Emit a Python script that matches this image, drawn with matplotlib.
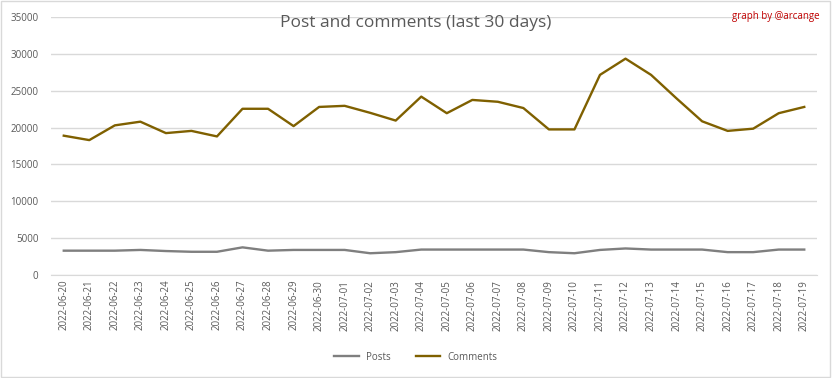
import matplotlib.pyplot as plt
from matplotlib.patches import Rectangle

days = ["2022-06-20", "2022-06-21", "2022-06-22", "2022-06-23", "2022-06-24",
        "2022-06-25", "2022-06-26", "2022-06-27", "2022-06-28", "2022-06-29",
        "2022-06-30", "2022-07-01", "2022-07-02", "2022-07-03", "2022-07-04",
        "2022-07-05", "2022-07-06", "2022-07-07", "2022-07-08", "2022-07-09",
        "2022-07-10", "2022-07-11", "2022-07-12", "2022-07-13", "2022-07-14",
        "2022-07-15", "2022-07-16", "2022-07-17", "2022-07-18", "2022-07-19"]
posts = [3300, 3300, 3300, 3400, 3250, 3150, 3150, 3750, 3300, 3400,
         3400, 3400, 2950, 3100, 3450, 3450, 3450, 3450, 3450, 3100,
         2950, 3400, 3600, 3450, 3450, 3450, 3100, 3100, 3450, 3450]
comments = [18900, 18300, 20300, 20800, 19250, 19550, 18800, 22550, 22550, 20200,
            22800, 22950, 22000, 20950, 24200, 21950, 23750, 23500, 22650, 19750,
            19750, 27150, 29350, 27150, 23950, 20850, 19550, 19850, 21950, 22800]
y_ticks = [0, 5000, 10000, 15000, 20000, 25000, 30000, 35000]

plt.rcParams['font.family'] = ['Open Sans', 'DejaVu Sans']

fig = plt.figure(figsize=(8.32, 3.78), dpi=100)
ax = fig.add_axes([0.0613, 0.2725, 0.9207, 0.6825])

x = list(range(len(days)))
ax.plot(x, posts, color='#7F7F7F', linewidth=1.7, label='Posts')
ax.plot(x, comments, color='#7F6000', linewidth=1.7, label='Comments')

ax.set_xlim(-0.5, len(days) - 0.5)
ax.set_ylim(0, 35000)
ax.set_yticks(y_ticks)
ax.set_yticklabels([str(v) for v in y_ticks])
ax.set_xticks(x)
ax.set_xticklabels(days, rotation=90)
ax.tick_params(axis='both', length=0, labelsize=7, labelcolor='#595959')
ax.tick_params(axis='y', pad=9)
ax.grid(axis='y', color='#D9D9D9', linewidth=1)
ax.set_axisbelow(True)
for s in ['top', 'right', 'left']:
    ax.spines[s].set_visible(False)
ax.spines['bottom'].set_color('#D9D9D9')

fig.text(0.5, 0.94, "Post and comments (last 30 days)", ha='center', va='center',
         fontsize=12.5, color='#595959')
fig.text(0.985, 0.957, "graph by @arcange", ha='right', va='center',
         fontsize=7, color='#C00000')

fig.legend(loc='center', bbox_to_anchor=(0.5, 0.055), ncol=2, frameon=False,
           fontsize=7, labelcolor='#595959', handlelength=2.5, columnspacing=2.5)

fig.patches.append(Rectangle((0.001, 0.002), 0.997, 0.995, transform=fig.transFigure,
                             fill=False, edgecolor='#D9D9D9', linewidth=1))

plt.savefig("out.png", dpi=100)
